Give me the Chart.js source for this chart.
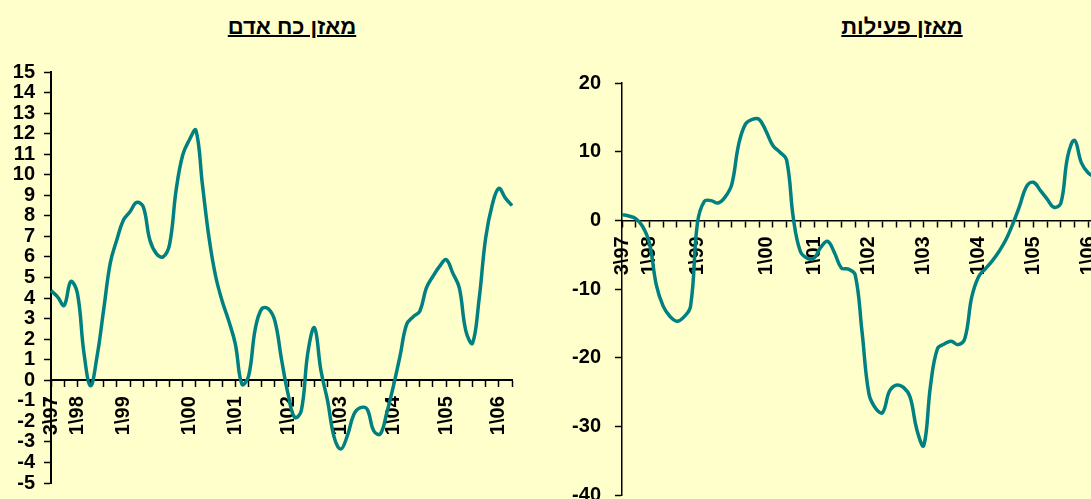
<!DOCTYPE html>
<html lang="he">
<head>
<meta charset="utf-8">
<title>מאזן כח אדם / מאזן פעילות</title>
<script src="https://cdn.jsdelivr.net/npm/chart.js@4"></script>
<style>
  html, body { margin: 0; padding: 0; background: #ffffcc; overflow: hidden; width: 1091px; height: 499px; }
  .title {
    position: absolute; top: 14px; transform: translateX(-50%);
    font: bold 22px/25px "Liberation Sans", Arial, sans-serif;
    text-decoration: underline; text-decoration-thickness: 2px;
    direction: rtl; white-space: nowrap; color: #000;
  }
  canvas { position: absolute; top: 0; }
</style>
</head>
<body>
<div class="title" style="left:292px">מאזן כח אדם</div>
<div class="title" style="left:902px">מאזן פעילות</div>
<canvas id="manpower" width="540" height="499" style="left:0"></canvas>
<canvas id="activity" width="580" height="499" style="left:540px"></canvas>
<script>
// year labels and the category index they sit on (71 categories, 2 per tick mark)
const yearLabels = ['3\\97', '1\\98', '1\\99', '1\\00', '1\\01', '1\\02', '1\\03', '1\\04', '1\\05', '1\\06'];
const yearIndex = [0, 4, 11, 21, 28, 36, 44, 52, 60, 68];
const categoryCount = 71;

// מאזן כח אדם
const manpowerBalance = [
  4.36, 4.06, 3.64, 4.8, 4.25, 1.34, -0.27, 1.18, 3.44, 5.7,
  6.84, 7.8, 8.2, 8.65, 8.45, 6.84, 6.16, 6.0, 6.6, 9.26,
  10.96, 11.69, 12.17, 9.5, 6.92, 5.06, 3.85, 2.88, 1.75, -0.2,
  0.2, 2.47, 3.48, 3.48, 2.88, 1.02, -0.68, -1.81, -1.49, 1.34,
  2.55, 0.45, -1.0, -2.78, -3.35, -2.7, -1.65, -1.33, -1.41, -2.46,
  -2.62, -1.57, -0.27, 1.18, 2.72, 3.09, 3.36, 4.49, 5.06, 5.54,
  5.87, 5.22, 4.49, 2.39, 1.8, 3.93, 6.92, 8.54, 9.34, 8.86,
  8.5
];

// מאזן פעילות
const activityBalance = [
  0.83, 0.63, 0.24, -0.87, -3.3, -9.4, -12.5, -14.0, -14.7, -14.1,
  -12.5, -0.4, 2.77, 2.87, 2.53, 3.35, 5.2, 11.0, 14.0, 14.7,
  14.7, 13.0, 10.9, 9.96, 8.8, 0.24, -4.5, -5.5, -5.5, -3.9,
  -3.06, -4.76, -6.95, -7.1, -7.9, -16.2, -25.2, -27.4, -28.0, -24.9,
  -24.0, -24.3, -25.7, -30.5, -32.8, -24.0, -18.7, -18.0, -17.6, -18.1,
  -17.2, -11.2, -8.2, -7.05, -5.9, -4.5, -2.8, -0.5, 2.14, 4.96,
  5.54, 4.37, 3.1, 1.9, 2.5, 9.33, 11.66, 8.36, 6.9, 6.3,
  6.0
];

const categories = Array.from({ length: categoryCount }, (_, i) => {
  const k = yearIndex.indexOf(i);
  return k >= 0 ? yearLabels[k] : '';
});

const FONT = '"Liberation Sans", Arial, sans-serif';
const LINE_COLOR = '#008080';

function makeChart(id, values, yMin, yMax, yStep, layout) {
  new Chart(document.getElementById(id), {
    type: 'line',
    data: {
      labels: categories,
      datasets: [{
        data: values,
        borderColor: LINE_COLOR,
        borderWidth: 3.5,
        pointRadius: 0,
        tension: 0.4,
        fill: false
      }]
    },
    options: {
      responsive: false,
      animation: false,
      devicePixelRatio: 1,
      layout: { padding: layout.padding },
      plugins: { legend: { display: false }, tooltip: { enabled: false } },
      scales: {
        x: {
          position: { y: 0 },
          offset: false,
          border: { color: '#000', width: layout.axisWidth },
          grid: {
            drawOnChartArea: false,
            tickLength: 6,
            tickWidth: 1.5,
            // tick mark every second category
            tickColor: ctx => (ctx.index % 2 === 0 ? '#000' : 'transparent')
          },
          ticks: {
            autoSkip: false,
            maxRotation: 90,
            minRotation: 90,
            padding: 10,
            color: '#000',
            font: { family: FONT, weight: 'bold', size: 20 }
          },
          // axis sits on y = 0, so it takes no room from the plot
          afterFit: s => { s.height = 0; s.paddingLeft = 0; s.paddingRight = 0; }
        },
        y: {
          min: yMin,
          max: yMax,
          border: { color: '#000', width: layout.axisWidth },
          grid: { drawOnChartArea: false, tickLength: 7, tickWidth: 1.5, tickColor: '#000' },
          ticks: {
            stepSize: yStep,
            autoSkip: false,
            padding: layout.labelPad,
            color: '#000',
            font: { family: FONT, weight: 'bold', size: 20 }
          },
          afterFit: s => { s.width = layout.yWidth; s.paddingTop = 0; s.paddingBottom = 0; }
        }
      }
    }
  });
}

makeChart('manpower', manpowerBalance, -5, 15, 1, {
  padding: { left: 0, right: 28, top: 72, bottom: 16 },
  yWidth: 51, axisWidth: 2, labelPad: 9
});

makeChart('activity', activityBalance, -40, 20, 10, {
  padding: { left: 0, right: 18, top: 83, bottom: 4 },
  yWidth: 82, axisWidth: 1.5, labelPad: 14
});
</script>
</body>
</html>
